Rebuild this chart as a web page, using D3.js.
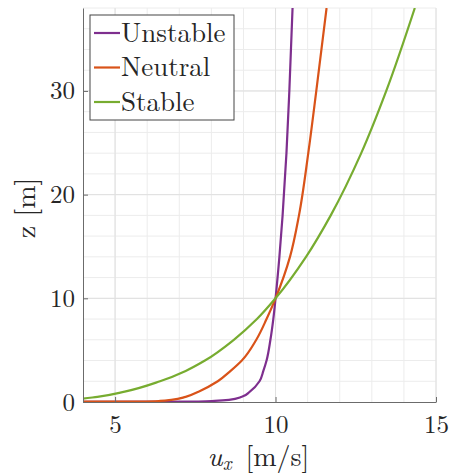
<!DOCTYPE html>
<html lang="en">
<head>
  <meta charset="UTF-8">
  <title>Wind profiles</title>
  <script src="https://cdn.jsdelivr.net/npm/d3@7"></script>
  <style>
    body { margin: 0; background: #fff; }
  </style>
</head>
<body>
  <svg id="chart" width="449" height="476"></svg>

  <script>
    // heights [m] and the speed at those heights [m/s]
    const heights   = [0, 0.05, 0.1, 0.2, 0.5, 1, 2, 3, 4, 6, 8, 10, 14, 18, 24, 30, 38];
    const uUnstable = [0, 7.6, 8.1, 8.55, 8.95, 9.2, 9.5, 9.62, 9.72, 9.84, 9.93, 10, 10.12, 10.22, 10.34, 10.43, 10.53];
    const uNeutral  = [0, 5.8, 6.4, 6.75, 7.2, 7.6, 8.2, 8.6, 8.95, 9.4, 9.72, 10, 10.45, 10.73, 11.02, 11.27, 11.59];
    const uStable   = [0, 2.4, 2.9, 3.5, 4.45, 5.3, 6.4, 7.2, 7.8, 8.7, 9.42, 10, 10.95, 11.72, 12.67, 13.45, 14.34];

    const seriesNames = ["Unstable", "Neutral", "Stable"];
    const seriesU     = [uUnstable, uNeutral, uStable];
    const colors      = ["#7E2F8E", "#D95319", "#77AC30"];

    const xTicks = [5, 10, 15];
    const yTicks = [0, 10, 20, 30];

    const FONT = '"Latin Modern Roman", "Liberation Serif", serif';

    const svg = d3.select("#chart");
    const pLeft = 83, pRight = 436, pTop = 8, pBottom = 402;

    const x = d3.scaleLinear().domain([4, 15]).range([pLeft, pRight]);
    const y = d3.scaleLinear().domain([0, 38]).range([pBottom, pTop]);

    // grid: minor every 1 (x) / 2 (y), major at ticks
    const grid = svg.append("g");
    grid.selectAll(".vminor").data(d3.range(5, 16, 1))
      .join("line")
        .attr("x1", d => x(d)).attr("x2", d => x(d))
        .attr("y1", pTop).attr("y2", pBottom)
        .attr("stroke", "#ececec").attr("stroke-width", 1);
    grid.selectAll(".hminor").data(d3.range(2, 39, 2))
      .join("line")
        .attr("x1", pLeft).attr("x2", pRight)
        .attr("y1", d => y(d)).attr("y2", d => y(d))
        .attr("stroke", "#ececec").attr("stroke-width", 1);
    grid.selectAll(".vmajor").data(xTicks)
      .join("line")
        .attr("x1", d => x(d)).attr("x2", d => x(d))
        .attr("y1", pTop).attr("y2", pBottom)
        .attr("stroke", "#e0e0e0").attr("stroke-width", 1);
    grid.selectAll(".hmajor").data(yTicks.slice(1))
      .join("line")
        .attr("x1", pLeft).attr("x2", pRight)
        .attr("y1", d => y(d)).attr("y2", d => y(d))
        .attr("stroke", "#e0e0e0").attr("stroke-width", 1);

    svg.append("clipPath").attr("id", "clip")
      .append("rect")
        .attr("x", pLeft).attr("y", pTop)
        .attr("width", pRight - pLeft).attr("height", pBottom - pTop + 1);

    const line = d3.line()
      .x(d => x(d[0]))
      .y(d => y(d[1]))
      .curve(d3.curveMonotoneY);

    svg.append("g").attr("clip-path", "url(#clip)")
      .selectAll("path")
      .data(seriesU)
      .join("path")
        .attr("d", u => line(u.map((v, i) => [v, heights[i]])))
        .attr("fill", "none")
        .attr("stroke", (u, i) => colors[i])
        .attr("stroke-width", 2.2);

    // axes (ticks inside, like matlab)
    const xAxis = svg.append("g")
      .attr("transform", `translate(0,${pBottom})`)
      .call(d3.axisBottom(x).tickValues(xTicks).tickSizeInner(-5).tickSizeOuter(0).tickPadding(14));
    const yAxis = svg.append("g")
      .attr("transform", `translate(${pLeft},0)`)
      .call(d3.axisLeft(y).tickValues(yTicks).tickSizeInner(-5).tickSizeOuter(0).tickPadding(8));

    [xAxis, yAxis].forEach(a => {
      a.select(".domain").attr("stroke", "#6b6b6b");
      a.selectAll(".tick line").attr("stroke", "#6b6b6b");
      a.selectAll(".tick text")
        .style("font-family", FONT)
        .style("font-size", "25px")
        .attr("fill", "#262626");
    });
    xAxis.selectAll(".tick text").attr("dy", "0.66em");

    // axis labels
    const xl = svg.append("text")
      .attr("x", (pLeft + pRight) / 2 - 1)
      .attr("y", 466)
      .attr("text-anchor", "middle")
      .attr("fill", "#262626")
      .style("font-family", FONT)
      .style("font-size", "28px");
    xl.append("tspan").style("font-style", "italic").text("u");
    xl.append("tspan").style("font-style", "italic").style("font-size", "19px").attr("dy", 4).text("x");
    xl.append("tspan").attr("dy", -4).text("\u2002[m/s]");

    svg.append("text")
      .attr("transform", `translate(35,208) rotate(-90)`)
      .attr("text-anchor", "middle")
      .attr("fill", "#262626")
      .style("font-family", FONT)
      .style("font-size", "28px")
      .text("z [m]");

    // legend
    const lg = svg.append("g");
    lg.append("rect")
      .attr("x", 90).attr("y", 15)
      .attr("width", 144).attr("height", 105)
      .attr("fill", "#fff").attr("stroke", "#444").attr("stroke-width", 1);
    const rows = lg.selectAll(".row").data(seriesNames)
      .join("g")
        .attr("transform", (d, i) => `translate(0,${33 + i * 34.5})`);
    rows.append("line")
      .attr("x1", 94).attr("x2", 120)
      .attr("stroke", (d, i) => colors[i]).attr("stroke-width", 2.2);
    rows.append("text")
      .attr("x", 121).attr("dy", "0.33em")
      .attr("fill", "#262626")
      .style("font-family", FONT)
      .style("font-size", "27px")
      .text(d => d);
  </script>
</body>
</html>
